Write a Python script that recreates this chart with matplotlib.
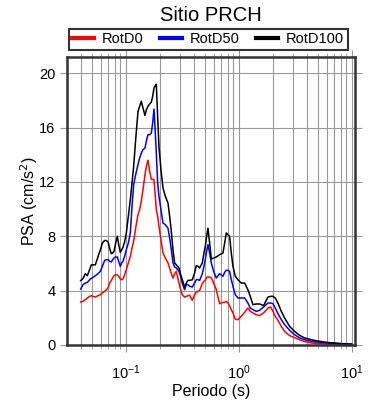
import matplotlib
matplotlib.use("Agg")
import matplotlib.pyplot as plt
from matplotlib.ticker import LogLocator, NullFormatter

plt.rcParams['font.family'] = ['Liberation Sans', 'DejaVu Sans']

# periodos (s)
periodo = [0.0400, 0.0419, 0.0440, 0.0458, 0.0480, 0.0497, 0.0514, 0.0539, 0.0569, 0.0597,
           0.0622, 0.0652, 0.0675, 0.0698, 0.0722, 0.0747, 0.0767, 0.0789, 0.0816, 0.0844,
           0.0867, 0.0897, 0.0922, 0.0947, 0.0980, 0.1014, 0.1056, 0.1100, 0.1138, 0.1177,
           0.1226, 0.1286, 0.1330, 0.1376, 0.1423, 0.1483, 0.1524, 0.1576, 0.1631, 0.1687,
           0.1734, 0.1781, 0.1830, 0.1868, 0.1920, 0.1972, 0.2054, 0.2140, 0.2244, 0.2370,
           0.2452, 0.2536, 0.2624, 0.2714, 0.2808, 0.2965, 0.3067, 0.3172, 0.3326, 0.3442,
           0.3561, 0.3685, 0.3890, 0.4079, 0.4220, 0.4366, 0.4518, 0.4770, 0.4935, 0.5070,
           0.5210, 0.5353, 0.5539, 0.5731, 0.6010, 0.6345, 0.6790, 0.7267, 0.7518, 0.7778,
           0.8047, 0.8324, 0.8612, 0.8910, 0.9344, 0.9865, 1.056, 1.130, 1.209, 1.268,
           1.339, 1.433, 1.534, 1.664, 1.818, 1.920, 2.013, 2.111, 2.229, 2.386,
           2.554, 2.828, 3.131, 3.466, 3.837, 4.397, 5.037, 5.968, 7.071, 8.381, 10.0]

rotd100 = [4.74, 4.9, 5.25, 5.1, 5.55, 5.9, 5.9, 5.9, 6.5, 7.0,
           7.5, 7.7, 7.68, 7.6, 7.1, 6.72, 6.77, 6.9, 7.5, 8.0,
           7.4, 6.82, 7.0, 7.2, 7.6, 8.25, 9.47, 10.7, 11.9, 13.15,
           15.1, 17.2, 17.57, 17.94, 17.45, 16.9, 17.3, 17.57, 17.74, 17.87,
           18.3, 18.92, 19.1, 19.2, 16.8, 14.6, 12.9, 11.56, 10.95, 10.45,
           9.47, 8.37, 7.0, 6.04, 5.9, 5.67, 5.18, 4.8, 4.27, 4.56,
           4.76, 4.76, 4.8, 5.3, 5.84, 5.8, 5.67, 6.04, 6.77, 7.26,
           8.0, 8.6, 7.5, 6.33, 6.4, 6.48, 6.65, 6.77, 7.5, 8.25,
           8.12, 8.0, 6.77, 5.79, 5.06, 4.8, 4.56, 4.56, 4.07, 3.58,
           2.97, 3.02, 3.02, 2.9, 3.53, 3.58, 3.58, 3.46, 3.09, 2.48,
           1.99, 1.37, 1.0, 0.71, 0.52, 0.39, 0.29, 0.2, 0.15, 0.1, 0.07]

rotd50 = [4.12, 4.44, 4.56, 4.61, 4.81, 4.91, 4.98, 5.1, 5.25, 5.42,
          5.79, 6.23, 6.28, 6.28, 6.16, 6.11, 6.28, 6.4, 6.48, 6.48,
          6.16, 5.79, 6.04, 6.16, 6.53, 7.02, 7.5, 8.25, 10.2, 11.8,
          12.54, 13.28, 13.77, 14.13, 14.38, 14.5, 15.0, 15.48, 15.48, 15.6,
          16.34, 17.37, 15.6, 14.13, 11.93, 10.95, 9.96, 8.98, 8.86, 8.6,
          7.88, 7.02, 6.04, 5.74, 5.67, 5.42, 5.06, 4.56, 4.07, 4.44,
          4.44, 4.32, 4.27, 4.56, 4.81, 4.81, 4.76, 5.25, 5.79, 6.28,
          6.9, 7.39, 6.77, 6.04, 5.42, 4.93, 5.25, 5.06, 5.35, 5.5,
          5.5, 5.42, 4.81, 4.32, 3.71, 3.46, 3.46, 3.46, 3.09, 2.72,
          2.6, 2.48, 2.55, 2.8, 3.09, 3.09, 3.04, 2.72, 2.31, 1.87,
          1.5, 1.08, 0.76, 0.52, 0.39, 0.27, 0.2, 0.15, 0.1, 0.07, 0.05]

rotd0 = [3.17, 3.21, 3.34, 3.46, 3.58, 3.63, 3.58, 3.53, 3.63, 3.7,
         3.83, 3.95, 4.07, 4.2, 4.56, 4.76, 4.93, 5.1, 5.18, 5.15,
         5.06, 4.86, 4.81, 4.86, 5.18, 5.55, 6.04, 6.53, 7.14, 7.63,
         8.6, 9.6, 9.96, 10.58, 11.44, 12.54, 13.15, 13.6, 12.8, 12.2,
         12.2, 12.17, 10.95, 9.96, 9.47, 8.74, 7.75, 6.77, 6.4, 6.04,
         5.67, 5.25, 4.93, 5.25, 5.42, 4.56, 4.07, 3.7, 3.53, 3.58,
         3.63, 3.66, 3.29, 3.7, 3.88, 3.95, 4.02, 4.52, 4.69, 4.76,
         4.98, 5.0, 5.0, 4.93, 4.56, 4.07, 3.04, 3.14, 3.14, 3.21,
         3.09, 2.9, 2.6, 2.36, 1.91, 1.86, 2.11, 2.4, 2.72, 2.48,
         2.36, 2.23, 2.16, 2.36, 2.72, 2.8, 2.48, 2.11, 1.82, 1.37,
         1.0, 0.69, 0.54, 0.39, 0.25, 0.15, 0.1, 0.07, 0.05, 0.03, 0.03]

fig = plt.figure(figsize=(3.9, 4.0), dpi=100)
ax = fig.add_axes([0.172, 0.1375, 0.738, 0.72])

ax.plot(periodo, rotd0, color='red', lw=1.1, label='RotD0')
ax.plot(periodo, rotd50, color='blue', lw=1.1, label='RotD50')
ax.plot(periodo, rotd100, color='black', lw=1.1, label='RotD100')

ax.set_xscale('log')
ax.set_xlim(0.0303, 10.7)
ax.set_ylim(0, 21.2)
ax.set_yticks([0, 4, 8, 12, 16, 20])
ax.xaxis.set_major_locator(LogLocator(base=10, numticks=10))
ax.xaxis.set_minor_locator(LogLocator(base=10, subs=range(2, 10), numticks=20))
ax.xaxis.set_minor_formatter(NullFormatter())

ax.grid(True, which='both', axis='x', color='#999999', lw=0.8)
ax.grid(True, which='major', axis='y', color='#999999', lw=0.8)
ax.tick_params(which='both', direction='out', top=True, right=True,
               color='#999999', labelsize=10.5)
ax.tick_params(which='major', length=5)
ax.tick_params(which='minor', length=3)
ax.tick_params(axis='x', which='major', pad=8)
for s in ax.spines.values():
    s.set_linewidth(1.8)
    s.set_color('#333333')

ax.set_xlabel('Periodo (s)', fontsize=11.5, labelpad=2)
ax.set_ylabel('PSA (cm/s$^2$)', fontsize=11.5, labelpad=-1)
fig.text(0.54, 0.962, 'Sitio PRCH', ha='center', va='center', fontsize=14.5)

leg = ax.legend(loc='lower center', bbox_to_anchor=(0.49, 1.025), ncol=3,
                fontsize=10.5, frameon=True, fancybox=False, edgecolor='black',
                handlelength=1.5, handletextpad=0.55, columnspacing=1.1,
                borderpad=0.25, borderaxespad=0)
leg.get_frame().set_linewidth(1.5)
for h in leg.get_lines():
    h.set_linewidth(3)

fig.savefig('out.png', dpi=100)
